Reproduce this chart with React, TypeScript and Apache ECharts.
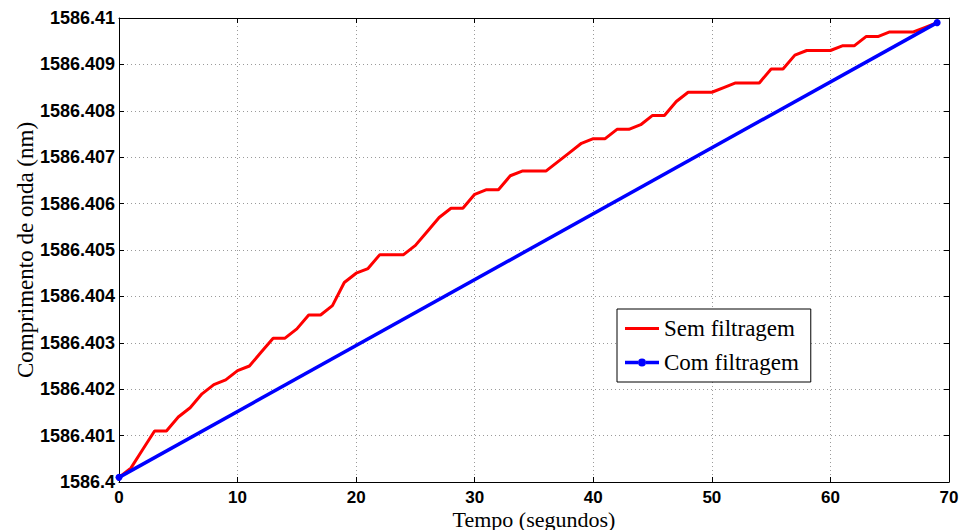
import React, { useEffect, useRef } from "react";
import * as echarts from "echarts";

const timeSeconds: number[] = [
  0, 1, 2, 3, 4, 5, 6, 7, 8, 9, 10, 11, 12, 13, 14, 15, 16, 17, 18, 19, 20, 21, 22, 23, 24,
  25, 26, 27, 28, 29, 30, 31, 32, 33, 34, 35, 36, 37, 38, 39, 40, 41, 42, 43, 44, 45, 46, 47,
  48, 49, 50, 51, 52, 53, 54, 55, 56, 57, 58, 59, 60, 61, 62, 63, 64, 65, 66, 67, 68, 69,
];

const semFiltragem: number[] = [
  1586.4001, 1586.4003, 1586.4007, 1586.4011, 1586.4011, 1586.4014, 1586.4016, 1586.4019,
  1586.4021, 1586.4022, 1586.4024, 1586.4025, 1586.4028, 1586.4031, 1586.4031, 1586.4033,
  1586.4036, 1586.4036, 1586.4038, 1586.4043, 1586.4045, 1586.4046, 1586.4049, 1586.4049,
  1586.4049, 1586.4051, 1586.4054, 1586.4057, 1586.4059, 1586.4059, 1586.4062, 1586.4063,
  1586.4063, 1586.4066, 1586.4067, 1586.4067, 1586.4067, 1586.4069, 1586.4071, 1586.4073,
  1586.4074, 1586.4074, 1586.4076, 1586.4076, 1586.4077, 1586.4079, 1586.4079, 1586.4082,
  1586.4084, 1586.4084, 1586.4084, 1586.4085, 1586.4086, 1586.4086, 1586.4086, 1586.4089,
  1586.4089, 1586.4092, 1586.4093, 1586.4093, 1586.4093, 1586.4094, 1586.4094, 1586.4096,
  1586.4096, 1586.4097, 1586.4097, 1586.4097, 1586.4098, 1586.4099,
];

const comFiltragemTime: number[] = [0, 69];
const comFiltragem: number[] = [1586.4001, 1586.4099];

const xTicks = { min: 0, max: 70, interval: 10 };
const yTicks = { min: 1586.4, max: 1586.41, interval: 0.001 };

const seriesNames = ["Sem filtragem", "Com filtragem"];
const axisNames = { x: "Tempo (segundos)", y: "Comprimento de onda (nm)" };

const tickFont = {
  fontFamily: "Liberation Sans, Arial, sans-serif",
  fontWeight: "bold" as const,
  fontSize: 17,
  lineHeight: 17,
  color: "#000",
};
const serifFont = {
  fontFamily: "Liberation Serif, Times New Roman, serif",
  fontSize: 23,
  color: "#000",
};

const gridLine = { show: true, lineStyle: { color: "#9a9a9a", width: 1, type: [1, 3] as number[] } };

const redIcon = "path://M0,0h34v3h-34z";
const blueIcon =
  "path://M0,2.25h13v3.5h-13z M21,2.25h13v3.5h-13z M13,4a4,4 0 1,1 8,0a4,4 0 1,1 -8,0z";

export default function App() {
  const ref = useRef<HTMLDivElement>(null);
  useEffect(() => {
    if (!ref.current) return;
    const chart = echarts.init(ref.current, undefined, { renderer: "svg" });
    const fmtY = (v: number) => String(Math.round(v * 1000) / 1000);
    chart.setOption({
      animation: false,
      backgroundColor: "#fff",
      grid: {
        left: 119,
        top: 18,
        width: 830,
        height: 464,
        containLabel: false,
        outerBoundsMode: "none",
      },
      legend: {
        left: 617,
        top: 309,
        orient: "vertical",
        backgroundColor: "#fff",
        borderColor: "#000",
        borderWidth: 1,
        borderRadius: 0,
        padding: [8, 12, 8, 8],
        itemGap: 11,
        itemWidth: 34,
        itemHeight: 14,
        textStyle: { ...serifFont, lineHeight: 20 },
        data: [
          { name: seriesNames[0], icon: redIcon, itemStyle: { color: "#ff0000" } },
          { name: seriesNames[1], icon: blueIcon, itemStyle: { color: "#0000ff" } },
        ],
      },
      xAxis: [
        {
          type: "value",
          min: xTicks.min,
          max: xTicks.max,
          interval: xTicks.interval,
          position: "bottom",
          name: axisNames.x,
          nameLocation: "middle",
          nameGap: 26,
          nameMoveOverlap: false,
          nameTextStyle: { ...serifFont, fontSize: 22, lineHeight: 22 },
          axisLine: { show: true, onZero: false, lineStyle: { color: "#000", width: 1 } },
          axisTick: { show: true, inside: true, length: 5, lineStyle: { color: "#000" } },
          axisLabel: { ...tickFont, margin: 7 },
          splitLine: gridLine,
        },
        {
          type: "value",
          min: xTicks.min,
          max: xTicks.max,
          interval: xTicks.interval,
          position: "top",
          axisLine: { show: true, onZero: false, lineStyle: { color: "#000", width: 1 } },
          axisTick: { show: true, inside: true, length: 5, lineStyle: { color: "#000" } },
          axisLabel: { show: false },
          splitLine: { show: false },
        },
      ],
      yAxis: [
        {
          type: "value",
          min: yTicks.min,
          max: yTicks.max,
          interval: yTicks.interval,
          position: "left",
          name: axisNames.y,
          nameLocation: "middle",
          nameGap: 82,
          nameMoveOverlap: false,
          nameTextStyle: serifFont,
          axisLine: { show: true, onZero: false, lineStyle: { color: "#000", width: 1 } },
          axisTick: { show: true, inside: true, length: 5, lineStyle: { color: "#000" } },
          axisLabel: { ...tickFont, fontSize: 18, margin: 4, formatter: fmtY },
          splitLine: gridLine,
        },
        {
          type: "value",
          min: yTicks.min,
          max: yTicks.max,
          interval: yTicks.interval,
          position: "right",
          axisLine: { show: true, onZero: false, lineStyle: { color: "#000", width: 1 } },
          axisTick: { show: true, inside: true, length: 5, lineStyle: { color: "#000" } },
          axisLabel: { show: false },
          splitLine: { show: false },
        },
      ],
      series: [
        {
          name: seriesNames[0],
          type: "line",
          xAxisIndex: 0,
          yAxisIndex: 0,
          symbol: "none",
          lineStyle: { color: "#ff0000", width: 3 },
          itemStyle: { color: "#ff0000" },
          data: timeSeconds.map((t, i) => [t, semFiltragem[i]]),
          z: 3,
        },
        {
          name: seriesNames[1],
          type: "line",
          xAxisIndex: 0,
          yAxisIndex: 0,
          symbol: "circle",
          symbolSize: 7,
          showSymbol: true,
          lineStyle: { color: "#0000ff", width: 3.5 },
          itemStyle: { color: "#0000ff" },
          data: comFiltragemTime.map((t, i) => [t, comFiltragem[i]]),
          z: 4,
        },
      ],
    });
    return () => chart.dispose();
  }, []);
  return <div ref={ref} style={{ width: 964, height: 530, position: "absolute", left: 0, top: 0 }} />;
}
